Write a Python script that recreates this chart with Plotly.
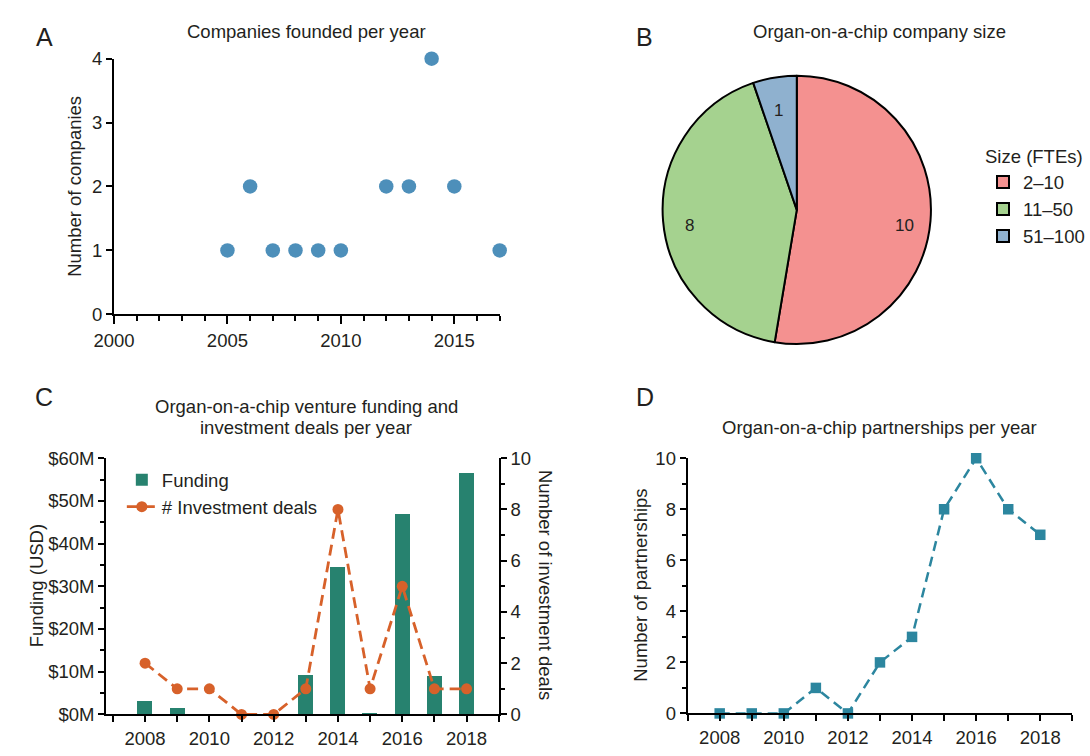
import math
import plotly.graph_objects as go

W, H = 1090, 756

# ---------------- data ----------------
founded_years = [2005, 2006, 2007, 2008, 2009, 2010, 2012, 2013, 2014, 2015, 2017]
founded_counts = [1, 2, 1, 1, 1, 1, 2, 2, 4, 2, 1]

size_labels = ["2–10", "11–50", "51–100"]
size_counts = [10, 8, 1]

fund_years = [2008, 2009, 2010, 2011, 2012, 2013, 2014, 2015, 2016, 2017, 2018]
funding_usd = [3.2e6, 1.5e6, 0, 0, 0, 9.2e6, 34.4e6, 0.3e6, 47.0e6, 9.0e6, 56.4e6]
deals = [2, 1, 1, 0, 0, 1, 8, 1, 5, 1, 1]

part_years = [2008, 2009, 2010, 2011, 2012, 2013, 2014, 2015, 2016, 2017, 2018]
partnerships = [0, 0, 0, 1, 0, 2, 3, 8, 10, 8, 7]

fund_tickvals = [0, 10e6, 20e6, 30e6, 40e6, 50e6, 60e6]
fund_ticktext = ["$0M", "$10M", "$20M", "$30M", "$40M", "$50M", "$60M"]
year_ticks_a = [2000, 2005, 2010, 2015]
year_ticks_cd = [2008, 2010, 2012, 2014, 2016, 2018]

FONT = "Liberation Sans, Arial, sans-serif"
TXT = "#231f20"
FS = 18.5

# pie geometry (pixels)
PIE_CX, PIE_CY, PIE_R = 792.5, 204.5, 138


def px_x(p):
    return p / W


def px_y(p):
    return 1 - p / H


fig = go.Figure()

# A
fig.add_trace(go.Scatter(
    x=founded_years, y=founded_counts, mode="markers",
    marker=dict(size=14.5, color="#4d8fba"), cliponaxis=False,
    showlegend=False, xaxis="x", yaxis="y"))

# B
fig.add_trace(go.Pie(
    labels=size_labels, values=size_counts, sort=False, direction="clockwise",
    rotation=0, textinfo="none",
    marker=dict(colors=["#f49190", "#a5d28f", "#8fb1cf"],
                line=dict(color="black", width=2)),
    domain=dict(x=[px_x(PIE_CX - PIE_R), px_x(PIE_CX + PIE_R)],
                y=[px_y(PIE_CY + PIE_R), px_y(PIE_CY - PIE_R)]),
    legend="legend", hoverinfo="label+value"))

# C
fig.add_trace(go.Bar(
    x=fund_years, y=funding_usd, width=0.466, name="Funding",
    marker=dict(color="#27826f", line=dict(width=0)),
    xaxis="x2", yaxis="y2", legend="legend2"))
fig.add_trace(go.Scatter(
    x=fund_years, y=deals, mode="lines+markers", name="# Investment deals",
    line=dict(color="#d7612a", width=2.8, dash="11px,6px"),
    marker=dict(size=11, color="#d7612a"), cliponaxis=False,
    xaxis="x2", yaxis="y3", legend="legend2"))

# D
fig.add_trace(go.Scatter(
    x=part_years, y=partnerships, mode="lines+markers",
    line=dict(color="#2c869f", width=2.5, dash="10px,6px"),
    marker=dict(size=10.5, symbol="square", color="#2c869f"),
    cliponaxis=False, showlegend=False, xaxis="x4", yaxis="y4"))

axis_common = dict(
    showline=True, linecolor="black", linewidth=2, showgrid=False,
    zeroline=False, ticks="outside", tickwidth=2, tickcolor="black",
    tickfont=dict(size=FS, color=TXT, family=FONT),
)


def minor(dt, t0, ln):
    return dict(dtick=dt, tick0=t0, ticklen=ln, tickwidth=2,
                tickcolor="black", ticks="outside")


fig.update_layout(
    width=W, height=H,
    margin=dict(l=0, r=0, t=0, b=0),
    paper_bgcolor="white", plot_bgcolor="white",
    font=dict(family=FONT, color=TXT, size=FS),
    bargap=0,
    xaxis=dict(**axis_common, domain=[px_x(95), px_x(489)], range=[2000, 2017],
               tickvals=year_ticks_a, ticklen=8, anchor="y",
               minor=minor(1, 2000, 5)),
    yaxis=dict(**axis_common, domain=[px_y(312), px_y(49)], range=[0, 4],
               dtick=1, ticklen=6, anchor="x"),
    xaxis2=dict(**axis_common, domain=[px_x(87), px_x(488)], range=[2006.79, 2019],
                tickvals=year_ticks_cd, ticklen=6, anchor="y2",
                minor=minor(1, 2008, 6)),
    yaxis2=dict(**axis_common, domain=[px_y(723.5), px_y(460)], range=[0, 60e6],
                tickvals=fund_tickvals, ticktext=fund_ticktext, ticklen=6,
                anchor="x2", minor=minor(5e6, 0, 4)),
    yaxis3=dict(**axis_common, range=[0, 10], dtick=2, ticklen=6,
                overlaying="y2", side="right", anchor="x2",
                minor=minor(1, 0, 4)),
    xaxis4=dict(**axis_common, domain=[px_x(681), px_x(1074)], range=[2007, 2019],
                tickvals=year_ticks_cd, ticklen=6, anchor="y4",
                minor=minor(1, 2008, 6)),
    yaxis4=dict(**axis_common, domain=[px_y(722.5), px_y(460)], range=[0, 10],
                dtick=2, ticklen=6, anchor="x4", minor=minor(1, 0, 4)),
    legend=dict(x=px_x(983), y=px_y(132), xanchor="left", yanchor="top",
                title=dict(text="Size (FTEs)", side="top",
                           font=dict(size=FS, color=TXT, family=FONT)),
                font=dict(size=FS, color=TXT, family=FONT),
                bgcolor="rgba(0,0,0,0)", tracegroupgap=0),
    legend2=dict(x=px_x(103), y=px_y(463), xanchor="left", yanchor="top",
                 font=dict(size=FS, color=TXT, family=FONT),
                 bgcolor="rgba(0,0,0,0)"),
)

ann = []


def add_text(text, x, y, size=FS, angle=0):
    ann.append(dict(text=text, x=px_x(x), y=px_y(y), xref="paper", yref="paper",
                    showarrow=False, textangle=angle, xanchor="center",
                    yanchor="middle", font=dict(size=size, color=TXT, family=FONT)))


# panel letters
add_text("A", 24, 27, size=25)
add_text("B", 637, 27, size=25)
add_text("C", 23.5, 397, size=25)
add_text("D", 637, 397, size=25)
# titles
add_text("Companies founded per year", 291.5, 21)
add_text("Organ-on-a-chip company size", 877.5, 21)
add_text("Organ-on-a-chip venture funding and", 291.5, 407)
add_text("investment deals per year", 291.5, 428)
add_text("Organ-on-a-chip partnerships per year", 877.5, 428)
# axis titles
add_text("Number of companies", 54, 180, angle=-90)
add_text("Funding (USD)", 16, 591, angle=-90)
add_text("Number of investment deals", 536, 590, angle=90)
add_text("Number of partnerships", 632.5, 591, angle=-90)

# pie slice value labels, placed at the middle angle of each slice
total = sum(size_counts)
cum = 0
for v in size_counts:
    mid = (cum + v / 2) / total * 2 * math.pi
    cum += v
    lx = PIE_CX + 0.8 * PIE_R * math.sin(mid)
    ly = PIE_CY - 0.8 * PIE_R * math.cos(mid) + 7
    add_text(str(v), lx, ly, size=17)

fig.update_layout(annotations=ann)

post = (
    "document.documentElement.style.margin='0px';"
    "document.body.style.margin='0px';"
    "document.body.style.overflow='hidden';"
    "var d=document.querySelector('.plotly-graph-div');"
    "if(d){d.style.position='fixed';d.style.left='0px';d.style.top='0px';}"
)
fig.write_html("out.html", config={"displayModeBar": False}, post_script=post)
